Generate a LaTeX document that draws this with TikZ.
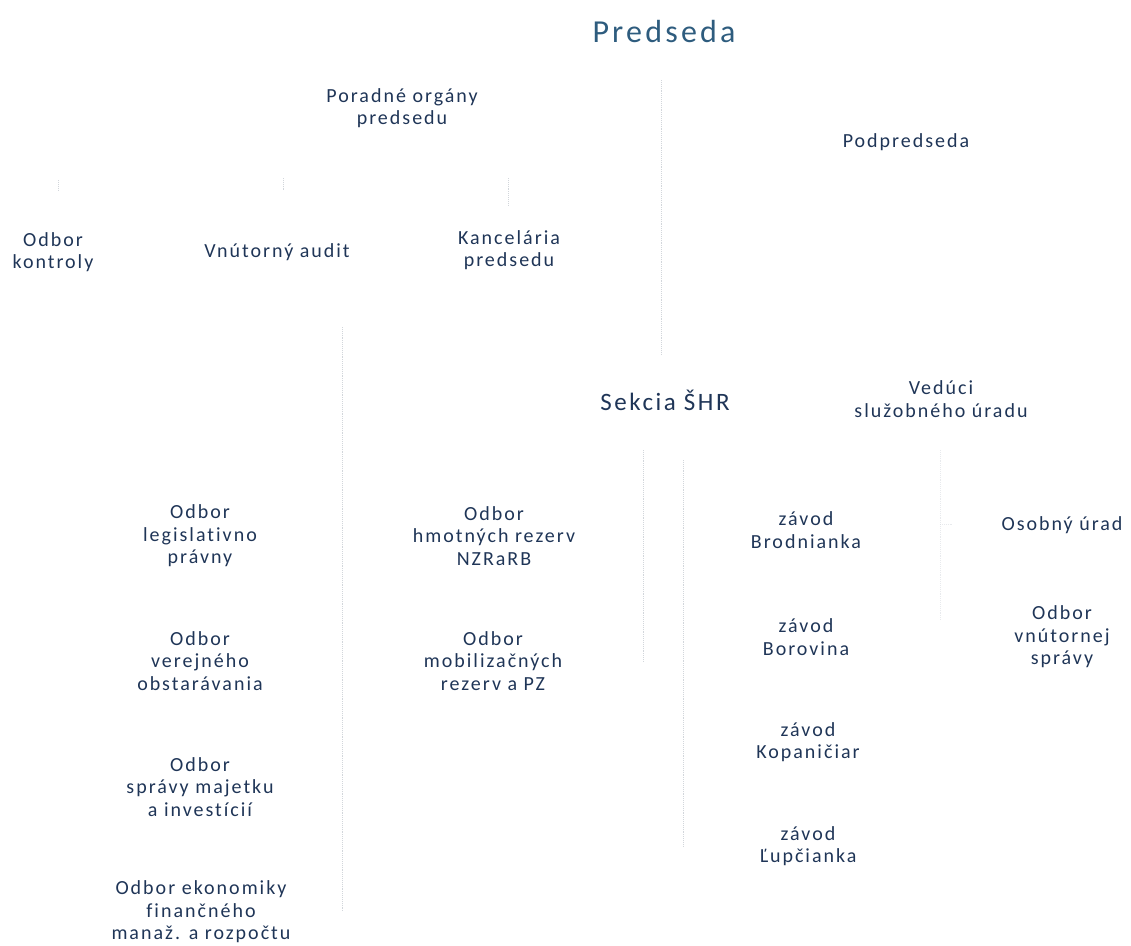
\documentclass[tikz,border=0pt]{standalone}
\usepackage{fontspec}
\setmainfont{Carlito}[LetterSpace=10, Ligatures=NoCommon, RawFeature={-liga;-dlig}]
\definecolor{ink}{HTML}{1F3557}
\definecolor{head}{HTML}{2E5C7E}
\definecolor{faint}{HTML}{D2D6DB}
\begin{document}
\begin{tikzpicture}[x=1pt, y=-1pt,
  unit/.style={align=center, text=ink, inner sep=0pt, font=\fontsize{20}{22.5}\selectfont},
  link/.style={draw=faint, densely dotted, line width=0.9pt}]
\useasboundingbox (0,0) rectangle (1131,945);
\node[unit, text=head, font=\fontsize{32}{36}\selectfont] (P_0_0) at (664,32) {Predseda};
\node[unit] (P_1_0) at (402,108) {Poradné orgány\\predsedu};
\node[unit] (P_1_1) at (906,142) {Podpredseda};
\node[unit] (P_2_0) at (53,252) {Odbor\\kontroly};
\node[unit] (P_2_1) at (277,252) {Vnútorný audit};
\node[unit] (P_2_2) at (509,250) {Kancelária\\predsedu};
\node[unit, font=\fontsize{25}{28}\selectfont] (P_3_0) at (665,400) {Sekcia ŠHR};
\node[unit] (P_3_1) at (941,399) {Vedúci\\služobného úradu};
\node[unit] (P_4_0) at (200,536) {Odbor\\legislativno\\právny};
\node[unit] (P_4_1) at (494,536) {Odbor\\hmotných rezerv\\NZRaRB};
\node[unit] (P_4_2) at (806,530) {závod\\Brodnianka};
\node[unit] (P_4_3) at (1062,525) {Osobný úrad};
\node[unit] (P_5_0) at (200,661) {Odbor\\verejného\\obstarávania};
\node[unit] (P_5_1) at (493,661) {Odbor\\mobilizačných\\rezerv a PZ};
\node[unit] (P_5_2) at (806,637) {závod\\Borovina};
\node[unit] (P_5_3) at (1062,637) {Odbor\\vnútornej\\správy};
\node[unit] (P_6_0) at (200,787) {Odbor\\správy majetku\\a investícií};
\node[unit] (P_6_2) at (808,742) {závod\\Kopaničiar};
\node[unit] (P_7_0) at (201,912) {Odbor ekonomiky\\finančného\\manaž. a rozpočtu};
\node[unit] (P_7_2) at (808,846) {závod\\Ľupčianka};
\coordinate (L_0_0) at (661,80);
\coordinate (L_0_1) at (661,355);
\draw[link] (L_0_0) -- (L_0_1);
\coordinate (L_1_0) at (342,327);
\coordinate (L_1_1) at (342,912);
\draw[link] (L_1_0) -- (L_1_1);
\coordinate (L_2_0) at (643,450);
\coordinate (L_2_1) at (643,662);
\draw[link] (L_2_0) -- (L_2_1);
\coordinate (L_3_0) at (683,460);
\coordinate (L_3_1) at (683,847);
\draw[link] (L_3_0) -- (L_3_1);
\coordinate (L_4_0) at (940,450);
\coordinate (L_4_1) at (940,620);
\draw[link, opacity=0.5] (L_4_0) -- (L_4_1);
\coordinate (L_4_2) at (953,524);
\draw[link, opacity=0.5] (L_4_1 |- L_4_2) -- (L_4_2);
\coordinate (T_0_0) at (58,180);
\coordinate (T_0_1) at (58,190);
\draw[link] (T_0_0) -- (T_0_1);
\coordinate (T_1_0) at (283,178);
\coordinate (T_1_1) at (283,190);
\draw[link] (T_1_0) -- (T_1_1);
\coordinate (T_2_0) at (508,178);
\coordinate (T_2_1) at (508,206);
\draw[link] (T_2_0) -- (T_2_1);
\end{tikzpicture}
\end{document}
